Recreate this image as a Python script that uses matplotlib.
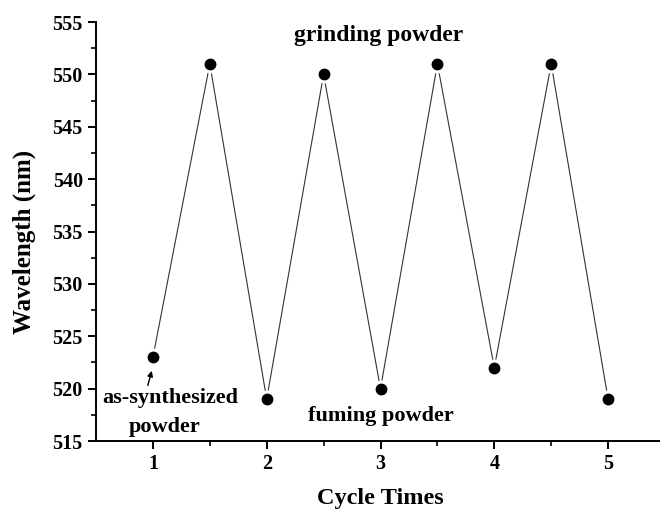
import matplotlib.pyplot as plt

# cycle positions: integer = fuming, half = grinding
cycle = [1, 1.5, 2, 2.5, 3, 3.5, 4, 4.5, 5]
wavelength = [523, 551, 519, 550, 520, 551, 522, 551, 519]

plt.rcParams['font.family'] = ['Liberation Serif', 'DejaVu Serif']
plt.rcParams['font.weight'] = 'bold'

fig = plt.figure(figsize=(6.6, 5.11), dpi=100)
ax = fig.add_axes([96 / 660, 70 / 511, 569 / 660, 419 / 511])

ax.plot(cycle, wavelength, '-', color='#333333', lw=0.8, zorder=1)
# white halo leaves a small gap between line and dots
ax.plot(cycle, wavelength, 'o', color='white', ms=12, zorder=2)
ax.plot(cycle, wavelength, 'o', color='black', ms=7.5, zorder=3)

ax.set_xlim(0.5, 5.5)
ax.set_ylim(515, 555)
ax.set_xticks([1, 2, 3, 4, 5])
ax.set_xticks([1.5, 2.5, 3.5, 4.5], minor=True)
ax.set_yticks(range(515, 556, 5))
ax.set_yticks([517.5 + 5 * i for i in range(8)], minor=True)

for side in ['top', 'right']:
    ax.spines[side].set_visible(False)
for side in ['left', 'bottom']:
    ax.spines[side].set_linewidth(1.4)

ax.tick_params(which='major', direction='out', length=6, width=1.4,
               labelsize=14.5, pad=3.5)
ax.tick_params(which='minor', direction='out', length=3.5, width=1.2)
for lab in ax.get_xticklabels() + ax.get_yticklabels():
    lab.set_fontweight('bold')

ax.set_xlabel('Cycle Times', fontsize=17.5, fontweight='bold', labelpad=10)
ax.set_ylabel('Wavelength (nm)', fontsize=18, fontweight='bold')
ax.yaxis.set_label_coords(-0.106, 0.475)

ax.text(2.98, 553.7, 'grinding powder', fontsize=17, fontweight='bold',
        ha='center', va='center')
ax.text(3.0, 517.4, 'fuming powder', fontsize=16, fontweight='bold',
        ha='center', va='center')
ax.text(1.15, 519.1, 'as-synthesized', fontsize=16, fontweight='bold',
        ha='center', va='center')
ax.text(1.1, 516.3, 'powder', fontsize=16, fontweight='bold',
        ha='center', va='center')
ax.annotate('', xy=(0.99, 521.7), xytext=(0.955, 520.3),
            arrowprops=dict(arrowstyle='-|>', color='black', lw=1,
                            mutation_scale=8, shrinkA=0, shrinkB=0))

fig.savefig('out.png', dpi=100)
